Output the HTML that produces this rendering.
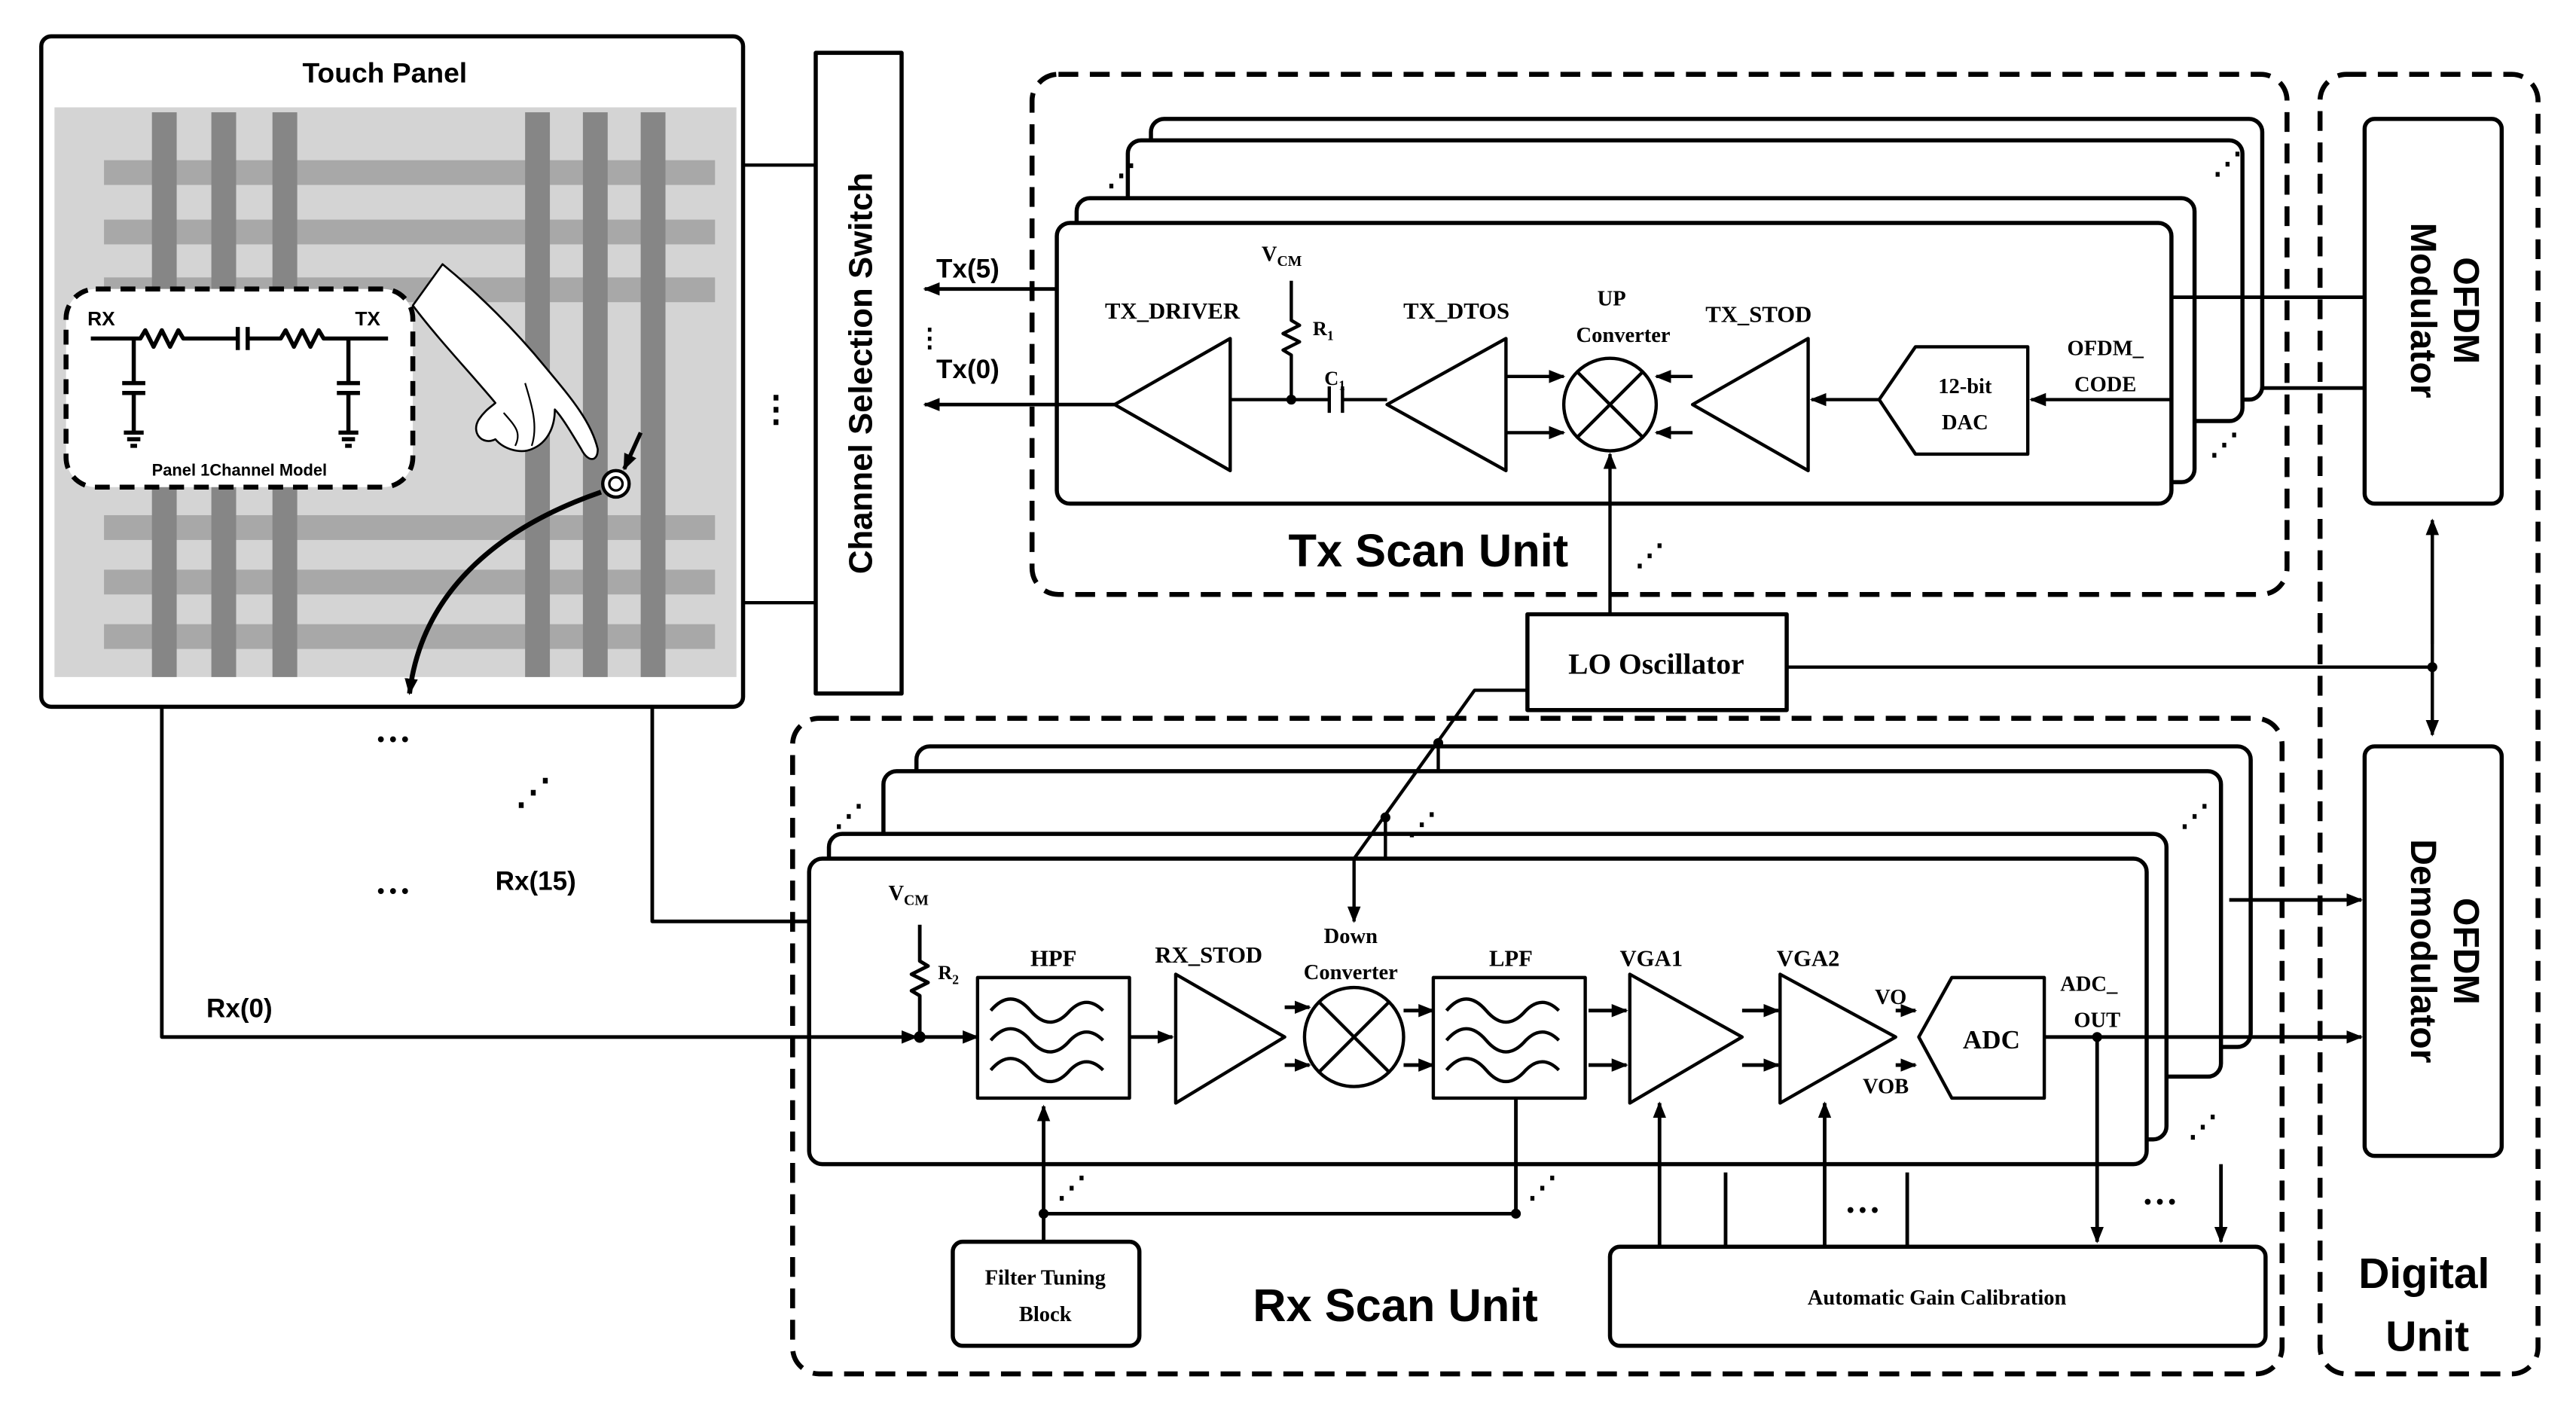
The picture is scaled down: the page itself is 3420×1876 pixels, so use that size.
<!DOCTYPE html>
<html><head><style>html,body{margin:0;padding:0;background:#fff}svg{display:block}</style></head><body>
<svg width="3420" height="1876" viewBox="0 0 1560 855.7" preserveAspectRatio="none" xmlns="http://www.w3.org/2000/svg">
<defs>
<marker id="a" markerWidth="10" markerHeight="10" refX="9" refY="5" orient="auto" markerUnits="userSpaceOnUse"><path d="M0,1 L10,5 L0,9 z" fill="#000"/></marker>
</defs>
<g font-family="Liberation Serif, serif" font-weight="bold" stroke-linejoin="round">
<!-- Touch panel -->
<rect x="25" y="22" width="425" height="406" rx="6" fill="#fff" stroke="#000" stroke-width="2.5"/>
<text x="233" y="50" font-family="Liberation Sans, sans-serif" font-size="17" text-anchor="middle">Touch Panel</text>
<rect x="33" y="65" width="413" height="345" fill="#d4d4d4"/>
<g fill="#a8a8a8">
<rect x="63" y="97" width="370" height="15"/><rect x="63" y="133" width="370" height="15"/><rect x="63" y="168" width="370" height="15"/>
<rect x="63" y="312" width="370" height="15"/><rect x="63" y="345" width="370" height="15"/><rect x="63" y="378" width="370" height="15"/>
</g>
<g fill="#868686">
<rect x="92" y="68" width="15" height="342"/><rect x="128" y="68" width="15" height="342"/><rect x="165" y="68" width="15" height="342"/>
<rect x="318" y="68" width="15" height="342"/><rect x="353" y="68" width="15" height="342"/><rect x="388" y="68" width="15" height="342"/>
</g>
<!-- channel model -->
<rect x="40" y="175" width="210" height="120" rx="18" fill="#fff" stroke="#000" stroke-width="3" stroke-dasharray="9,6"/>
<text x="53" y="197" font-family="Liberation Sans, sans-serif" font-size="12">RX</text>
<text x="215" y="197" font-family="Liberation Sans, sans-serif" font-size="12">TX</text>
<g stroke="#000" stroke-width="2.5" fill="none">
<path d="M55,205 H85 l3,-5 l5,10 l5,-10 l5,10 l5,-10 l3,5 H144 M150,205 H170 l3,-5 l5,10 l5,-10 l5,10 l5,-10 l3,5 H235"/>
<path d="M144,198 V212 M150,198 V212"/>
<path d="M81,205 V232 M74,232 H88 M74,238 H88 M81,238 V262 M75,262 H87 M77,266 H85 M79,270 H83"/>
<path d="M211,205 V232 M204,232 H218 M204,238 H218 M211,238 V262 M205,262 H217 M207,266 H215 M209,270 H213"/>
</g>
<text x="145" y="288" font-family="Liberation Sans, sans-serif" font-size="10" text-anchor="middle">Panel 1Channel Model</text>
<!-- hand -->
<path d="M250,185 L268,160 C290,178 312,200 330,222 C345,240 358,255 362,272 C362,280 356,280 352,272 C346,262 340,252 336,248 C336,258 332,268 322,272 C315,275 305,272 300,266 C292,270 285,262 290,254 C294,248 298,246 300,244 C285,226 265,205 250,185 z" fill="#fff" stroke="#000" stroke-width="1.2"/>
<path d="M318,232 C322,245 326,258 322,270 M305,250 C312,258 316,262 312,270" stroke="#000" stroke-width="1" fill="none"/>
<circle cx="373" cy="293" r="8" fill="#fff" stroke="#000" stroke-width="2"/><circle cx="373" cy="293" r="4" fill="#fff" stroke="#000" stroke-width="1.5"/>
<path d="M388,262 L378,284" stroke="#000" stroke-width="2.5" fill="none" marker-end="url(#a)"/>
<path d="M364,298 C300,320 255,360 248,420" stroke="#000" stroke-width="3" fill="none" marker-end="url(#a)"/>
<text x="470" y="255" font-size="22" text-anchor="middle">⋮</text>
<!-- lines to switch -->
<path d="M450,100 H494 M450,365 H494" stroke="#000" stroke-width="2"/>
<rect x="494" y="32" width="52" height="388" fill="#fff" stroke="#000" stroke-width="2.5"/>
<text transform="translate(528,226) rotate(-90)" font-family="Liberation Sans, sans-serif" font-size="20" text-anchor="middle">Channel Selection Switch</text>
<!-- Tx scan unit -->
<rect x="625" y="45" width="760" height="315" rx="16" fill="none" stroke="#000" stroke-width="3" stroke-dasharray="12,7"/>
<g fill="#fff" stroke="#000" stroke-width="2.5">
<rect x="697" y="72" width="673" height="170" rx="8"/>
<rect x="683" y="85" width="675" height="170" rx="8"/>
<rect x="652" y="120" width="677" height="172" rx="8"/>
<rect x="640" y="135" width="675" height="170" rx="8"/>
</g>
<text x="670" y="112" font-size="18">⋰</text><text x="1340" y="105" font-size="18">⋰</text><text x="1338" y="275" font-size="18">⋰</text>
<g stroke="#000" stroke-width="2.2" fill="none">
<path d="M640,175 H560" marker-end="url(#a)"/><path d="M675,245 H560" marker-end="url(#a)"/>
<path d="M1315,180 H1432 M1370,235 H1432"/>
</g>
<text x="567" y="168" font-family="Liberation Sans, sans-serif" font-size="16">Tx(5)</text>
<text x="567" y="229" font-family="Liberation Sans, sans-serif" font-size="16">Tx(0)</text>
<text x="555" y="210" font-size="16">⋮</text>
<g fill="#fff" stroke="#000" stroke-width="2">
<path d="M745,205 V285 L675,245 z"/>
<path d="M912,205 V285 L840,245 z"/>
<path d="M1095,205 V285 L1025,245 z"/>
<path d="M1160,210 H1228 V275 H1160 L1138,242 z"/>
<circle cx="975" cy="245" r="28"/>
</g>
<g stroke="#000" stroke-width="2" fill="none">
<path d="M955,225 L995,265 M995,225 L955,265"/>
<path d="M745,242 H805 M813,242 H840 M805,234 V250 M813,234 V250"/>
<path d="M782,242 V215 l-5,-3 l10,-5 l-10,-5 l10,-5 l-5,-3 V170"/>
<path d="M912,228 H947" marker-end="url(#a)"/><path d="M912,262 H947" marker-end="url(#a)"/>
<path d="M1025,228 H1003" marker-end="url(#a)"/><path d="M1025,262 H1003" marker-end="url(#a)"/>
<path d="M1138,242 H1097" marker-end="url(#a)"/><path d="M1315,242 H1230" marker-end="url(#a)"/>
<path d="M975,372 V275" marker-end="url(#a)"/>
</g>
<circle cx="782" cy="242" r="3"/>
<text x="764" y="158" font-size="13">V<tspan font-size="9" dy="3">CM</tspan></text>
<text x="795" y="203" font-size="12">R<tspan font-size="8" dy="3">1</tspan></text>
<text x="802" y="233" font-size="12">C<tspan font-size="8" dy="3">1</tspan></text>
<text x="710" y="193" font-size="14" text-anchor="middle">TX_DRIVER</text>
<text x="882" y="193" font-size="14" text-anchor="middle">TX_DTOS</text>
<text x="976" y="185" font-size="13" text-anchor="middle">UP</text>
<text x="983" y="207" font-size="13" text-anchor="middle">Converter</text>
<text x="1065" y="195" font-size="14" text-anchor="middle">TX_STOD</text>
<text x="1190" y="238" font-size="13" text-anchor="middle">12-bit</text>
<text x="1190" y="260" font-size="13" text-anchor="middle">DAC</text>
<text x="1275" y="215" font-size="13" text-anchor="middle">OFDM_</text>
<text x="1275" y="237" font-size="13" text-anchor="middle">CODE</text>
<text x="990" y="342" font-size="18">⋰</text>
<text x="865" y="343" font-family="Liberation Sans, sans-serif" font-size="28" text-anchor="middle">Tx Scan Unit</text>
<!-- Digital unit -->
<rect x="1405" y="45" width="132" height="787" rx="16" fill="none" stroke="#000" stroke-width="3" stroke-dasharray="12,7"/>
<rect x="1432" y="72" width="83" height="233" rx="6" fill="#fff" stroke="#000" stroke-width="2.5"/>
<rect x="1432" y="452" width="83" height="248" rx="6" fill="#fff" stroke="#000" stroke-width="2.5"/>
<text transform="translate(1486,188) rotate(90)" font-family="Liberation Sans, sans-serif" font-size="22" text-anchor="middle">OFDM</text>
<text transform="translate(1460,188) rotate(90)" font-family="Liberation Sans, sans-serif" font-size="22" text-anchor="middle">Modulator</text>
<text transform="translate(1486,576) rotate(90)" font-family="Liberation Sans, sans-serif" font-size="22" text-anchor="middle">OFDM</text>
<text transform="translate(1460,576) rotate(90)" font-family="Liberation Sans, sans-serif" font-size="22" text-anchor="middle">Demodulator</text>
<text x="1468" y="780" font-family="Liberation Sans, sans-serif" font-size="26" text-anchor="middle">Digital</text>
<text x="1470" y="818" font-family="Liberation Sans, sans-serif" font-size="26" text-anchor="middle">Unit</text>
<!-- LO -->
<rect x="925" y="372" width="157" height="58" fill="#fff" stroke="#000" stroke-width="2.5"/>
<text x="1003" y="408" font-size="18" text-anchor="middle">LO Oscillator</text>
<g stroke="#000" stroke-width="2" fill="none">
<path d="M1082,404 H1473"/>
<path d="M1473,390 V315" marker-end="url(#a)"/><path d="M1473,315 V445" marker-end="url(#a)"/>
</g>
<circle cx="1473" cy="404" r="3"/>
<!-- Rx scan unit -->
<rect x="480" y="435" width="902" height="397" rx="16" fill="none" stroke="#000" stroke-width="3" stroke-dasharray="12,7"/>
<g fill="#fff" stroke="#000" stroke-width="2.5">
<rect x="555" y="452" width="808" height="182" rx="8"/>
<rect x="535" y="467" width="810" height="185" rx="8"/>
<rect x="502" y="505" width="810" height="185" rx="8"/>
<rect x="490" y="520" width="810" height="185" rx="8"/>
</g>
<!-- LO to down converter (drawn over stacked boxes) -->
<g stroke="#000" stroke-width="2" fill="none">
<path d="M925,418 H893 L820,520 V558" marker-end="url(#a)"/>
<path d="M871,450 V467 M839,495 V520"/>
</g>
<circle cx="871" cy="450" r="3"/><circle cx="839" cy="495" r="3"/>
<text x="852" y="505" font-size="18">⋰</text>
<text x="505" y="500" font-size="18">⋰</text><text x="1320" y="500" font-size="18">⋰</text><text x="1325" y="688" font-size="18">⋰</text>
<g stroke="#000" stroke-width="2.2" fill="none">
<path d="M98,428 V628 H555" marker-end="url(#a)"/>
<path d="M395,428 V558 H490"/>
<path d="M1350,545 H1430" marker-end="url(#a)"/>
<path d="M1238,628 H1430" marker-end="url(#a)"/>
<path d="M557,628 V603 l-5,-3 l10,-5 l-10,-5 l10,-5 l-5,-3 V560"/>
<path d="M557,628 H592" marker-end="url(#a)"/>
<path d="M684,628 H710" marker-end="url(#a)"/>
<path d="M778,610 H793" marker-end="url(#a)"/><path d="M778,645 H793" marker-end="url(#a)"/>
<path d="M850,612 H868" marker-end="url(#a)"/><path d="M850,645 H868" marker-end="url(#a)"/>
<path d="M962,612 H985" marker-end="url(#a)"/><path d="M962,645 H985" marker-end="url(#a)"/>
<path d="M1055,612 H1077" marker-end="url(#a)"/><path d="M1055,645 H1077" marker-end="url(#a)"/>
<path d="M1148,612 H1160" marker-end="url(#a)"/><path d="M1148,645 H1160" marker-end="url(#a)"/>
<path d="M632,735 V670" marker-end="url(#a)"/>
<path d="M632,752 V735 H918 V655" marker-end="url(#a)"/>
<path d="M1005,755 V668" marker-end="url(#a)"/>
<path d="M1045,755 V710"/>
<path d="M1105,755 V668" marker-end="url(#a)"/>
<path d="M1155,755 V710"/>
<path d="M1270,628 V752" marker-end="url(#a)"/>
<path d="M1345,705 V752" marker-end="url(#a)"/>
</g>
<circle cx="557" cy="628" r="3.5"/><circle cx="1270" cy="628" r="3"/><circle cx="632" cy="735" r="3"/><circle cx="918" cy="735" r="3"/>
<g fill="#fff" stroke="#000" stroke-width="2">
<rect x="592" y="592" width="92" height="73"/>
<rect x="868" y="592" width="92" height="73"/>
<path d="M712,590 V668 L778,628 z"/>
<circle cx="820" cy="628" r="30"/>
<path d="M987,590 V668 L1055,628 z"/>
<path d="M1078,590 V668 L1148,628 z"/>
<path d="M1182,592 H1238 V665 H1182 L1162,628 z"/>
</g>
<g stroke="#000" stroke-width="2" fill="none">
<path d="M799,607 L841,649 M841,607 L799,649"/>
<path d="M600,612 q12,-14 24,0 q12,14 24,0 q10,-10 20,0 M600,630 q12,-14 24,0 q12,14 24,0 q10,-10 20,0 M600,648 q12,-14 24,0 q12,14 24,0 q10,-10 20,0"/>
<path d="M876,612 q12,-14 24,0 q12,14 24,0 q10,-10 20,0 M876,630 q12,-14 24,0 q12,14 24,0 q10,-10 20,0 M876,648 q12,-14 24,0 q12,14 24,0 q10,-10 20,0"/>
</g>
<text x="538" y="545" font-size="13">V<tspan font-size="9" dy="3">CM</tspan></text>
<text x="568" y="593" font-size="12">R<tspan font-size="8" dy="3">2</tspan></text>
<text x="638" y="585" font-size="14" text-anchor="middle">HPF</text>
<text x="732" y="583" font-size="14" text-anchor="middle">RX_STOD</text>
<text x="818" y="571" font-size="13" text-anchor="middle">Down</text>
<text x="818" y="593" font-size="13" text-anchor="middle">Converter</text>
<text x="915" y="585" font-size="14" text-anchor="middle">LPF</text>
<text x="1000" y="585" font-size="14" text-anchor="middle">VGA1</text>
<text x="1095" y="585" font-size="14" text-anchor="middle">VGA2</text>
<text x="1145" y="608" font-size="13" text-anchor="middle">VO</text>
<text x="1142" y="662" font-size="13" text-anchor="middle">VOB</text>
<text x="1206" y="635" font-size="16" text-anchor="middle">ADC</text>
<text x="1265" y="600" font-size="13" text-anchor="middle">ADC_</text>
<text x="1270" y="622" font-size="13" text-anchor="middle">OUT</text>
<text x="125" y="616" font-family="Liberation Sans, sans-serif" font-size="16">Rx(0)</text>
<text x="300" y="539" font-family="Liberation Sans, sans-serif" font-size="16">Rx(15)</text>
<text x="238" y="455" font-size="22" text-anchor="middle">···</text>
<text x="238" y="547" font-size="22" text-anchor="middle">···</text>
<text x="323" y="487" font-size="22" text-anchor="middle">⋰</text>
<text x="640" y="725" font-size="18">⋰</text><text x="925" y="725" font-size="18">⋰</text>
<text x="1128" y="740" font-size="22" text-anchor="middle">···</text>
<text x="1308" y="735" font-size="22" text-anchor="middle">···</text>
<rect x="577" y="752" width="113" height="63" rx="6" fill="#fff" stroke="#000" stroke-width="2.5"/>
<text x="633" y="778" font-size="13" text-anchor="middle">Filter Tuning</text>
<text x="633" y="800" font-size="13" text-anchor="middle">Block</text>
<rect x="975" y="755" width="397" height="60" rx="6" fill="#fff" stroke="#000" stroke-width="2.5"/>
<text x="1173" y="790" font-size="13" text-anchor="middle">Automatic Gain Calibration</text>
<text x="845" y="800" font-family="Liberation Sans, sans-serif" font-size="28" text-anchor="middle">Rx Scan Unit</text>
</g>
</svg>
</body></html>
